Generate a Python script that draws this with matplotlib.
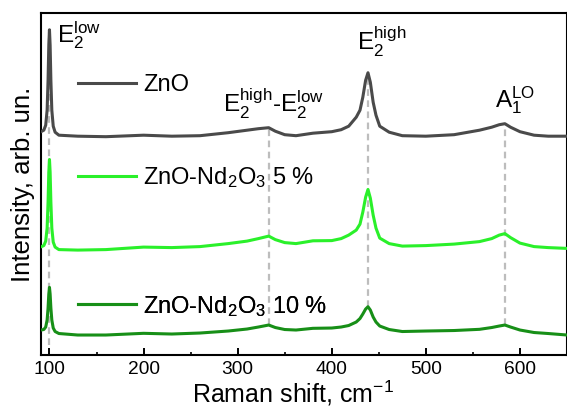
import matplotlib
matplotlib.use("Agg")
import matplotlib.pyplot as plt

plt.rcParams['font.family'] = ['Liberation Sans', 'DejaVu Sans']
plt.rcParams['mathtext.fontset'] = 'custom'
plt.rcParams['mathtext.rm'] = 'Liberation Sans'
plt.rcParams['mathtext.it'] = 'Liberation Sans:italic'
plt.rcParams['mathtext.bf'] = 'Liberation Sans:bold'

# ---- data (Raman shift, cm^-1; intensity, arb. units with offsets) ----
shift = [91, 94, 96, 97.5, 98.5, 99.3, 100, 100.7, 101.5, 102.5, 104, 106, 110,
         130, 160, 200, 230, 260, 290, 310, 322, 333, 340, 350, 362, 380, 400,
         410, 418, 426, 430, 433, 436, 438.5, 441, 444, 447, 451, 461, 475, 500,
         530, 557, 570, 578, 584, 590, 600, 615, 630, 650]

zno = [223.5, 225, 230, 245, 275, 310, 325.5, 310, 275, 245, 229, 223, 220,
       219, 218.5, 220, 219, 219.5, 222.5, 225, 226.5, 227.5, 224, 220.5, 219.5, 222, 223.5,
       225.5, 229, 238, 245, 258, 275, 282.5, 273, 253, 240, 229, 223, 219.5, 219,
       220.5, 225, 228, 230.5, 231.5, 228, 223.5, 220, 219, 219]

nd5 = [108.3, 109.5, 114, 127, 153, 183, 195.7, 183, 153, 127, 113, 108, 105.5,
       105, 105.5, 108, 107.5, 108.5, 111.5, 114, 116.5, 119, 115.5, 112.5, 111.5, 114.3, 114.5,
       116.5, 120, 125, 131, 143, 158, 165.7, 157, 140, 127, 117, 111.5, 109, 109.5,
       111, 113.5, 116.5, 120, 121.5, 117.5, 112, 108.5, 107.5, 106.7]

nd10 = [25, 25.5, 28, 35, 47, 61, 67.7, 61, 47, 35, 27, 23.5, 21.5,
        20, 20, 21.7, 21, 22, 24, 26, 28, 30, 27.5, 25.5, 25, 26.7, 27,
        28, 29.5, 33, 36.5, 41, 46, 48.3, 45, 38, 33, 29, 25.5, 23.5, 24,
        24.5, 25.7, 27.5, 29, 30, 28, 25, 22.5, 21.5, 20]

series_labels = ['ZnO', r'ZnO-Nd$\mathregular{_2}$O$\mathregular{_3}$ 5 %',
                 r'ZnO-Nd$\mathregular{_2}$O$\mathregular{_3}$ 10 %']
series_colors = ['#4a4a4a', '#2af02a', '#178f17']

# mode positions and dashed-line extents
mode_pos = [100, 333, 438.5, 584]
mode_lo = [10, 30, 48, 30]
mode_hi = [325, 227, 282, 231]

mode_labels = [r'$\mathregular{E_2^{low}}$',
               r'$\mathregular{E_2^{high}}$-$\mathregular{E_2^{low}}$',
               r'$\mathregular{E_2^{high}}$',
               r'$\mathregular{A_1^{LO}}$']
mode_label_x = [108, 284, 426.5, 573]
mode_label_y = [313, 243, 305, 248]

xticks = [100, 200, 300, 400, 500, 600]

# ---- figure ----
fig = plt.figure(figsize=(5.67, 4.09), dpi=100)
ax = fig.add_axes([41/567, 1 - 355/409, 1 - 41/567, (355 - 13.3)/409])

ax.vlines(mode_pos, mode_lo, mode_hi, colors='#bdbdbd', linestyles=(0, (3, 2)),
          linewidth=1.6, zorder=1)

lines = []
for ys, c, lab in zip([zno, nd5, nd10], series_colors, series_labels):
    ln, = ax.plot(shift, ys, color=c, lw=2.2, label=lab, zorder=3,
                  solid_joinstyle='round')
    lines.append(ln)

for lab, xx, yy in zip(mode_labels, mode_label_x, mode_label_y):
    ax.text(xx, yy, lab, fontsize=17.5, ha='left', va='baseline', color='black')

ax.set_xlim(91, 650)
ax.set_ylim(0, 342)
ax.set_xticks(xticks)
ax.set_xticks(list(range(150, 650, 100)), minor=True)
ax.set_yticks([])
ax.tick_params(axis='x', which='major', direction='in', length=5, width=1.4,
               labelsize=13.8, pad=4)
ax.tick_params(axis='x', which='minor', direction='in', length=2.5, width=1.2)
for sp in ax.spines.values():
    sp.set_linewidth(1.5)

ax.set_xlabel(r'Raman shift, cm$\mathregular{^{-1}}$', fontsize=18)
ax.set_ylabel('Intensity, arb. un.', fontsize=18.5, labelpad=4)
ax.xaxis.set_label_coords(0.479, -0.068)

leg_y = [0.789, 0.520, 0.143]
for ln, yy in zip(lines, leg_y):
    lg = ax.legend(handles=[ln], loc='center left', bbox_to_anchor=(0.0703, yy),
                   frameon=False, fontsize=17, handlelength=2.45, handletextpad=0.3,
                   borderpad=0, borderaxespad=0)
    ax.add_artist(lg)

fig.savefig('out.png', dpi=100)
